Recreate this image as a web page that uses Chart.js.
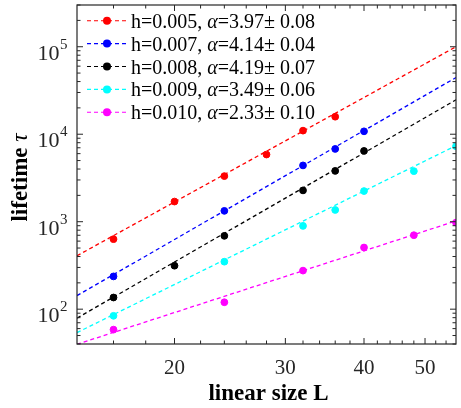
<!DOCTYPE html>
<html>
<head>
<meta charset="utf-8">
<script src="https://cdn.jsdelivr.net/npm/chart.js@4.4.0/dist/chart.umd.min.js"></script>
<style>
  body { margin: 0; background: #fff; }
</style>
</head>
<body>
<canvas id="lifetimeChart" width="461" height="408"></canvas>
<script>
// measured lifetimes per field strength h
const sizesH005 = [16, 20, 24, 28, 32, 36];
const tauH005 = [632, 1700, 3320, 5860, 10990, 15850];
const sizesH007 = [16, 24, 32, 36, 40];
const tauH007 = [237, 1330, 4400, 6790, 10790];
const sizesH008 = [16, 20, 24, 32, 36, 40];
const tauH008 = [136, 314, 689, 2280, 3810, 6440];
const sizesH009 = [16, 24, 32, 36, 40, 48, 56];
const tauH009 = [84, 349, 896, 1362, 2240, 3785, 7280];
const sizesH010 = [16, 24, 32, 40, 48, 56];
const tauH010 = [58.4, 120, 276, 507, 701, 977];

// power-law fits, value at each end of the L range
const fitRange = [14, 56];
const fitH005 = [408, 100000];
const fitH007 = [143, 44400];
const fitH008 = [79, 24700];
const fitH009 = [54, 7400];
const fitH010 = [39.7, 1020];

const hLabels = ['h=0.005', 'h=0.007', 'h=0.008', 'h=0.009', 'h=0.010'];
const alphas = ['3.97', '4.14', '4.19', '3.49', '2.33'];
const alphaErrs = ['0.08', '0.04', '0.07', '0.06', '0.10'];

const xTicks = [20, 30, 40, 50];
const yTicks = [100, 1000, 10000, 100000];

const colors = ['#ff0000', '#0000ff', '#000000', '#00ffff', '#ff00ff'];
const sizes = [sizesH005, sizesH007, sizesH008, sizesH009, sizesH010];
const taus = [tauH005, tauH007, tauH008, tauH009, tauH010];
const fits = [fitH005, fitH007, fitH008, fitH009, fitH010];

const SERIF = '"Liberation Serif", "Times New Roman", serif';
const AXIS = '#262626';

const datasets = [];
sizes.forEach((xs, k) => {
  datasets.push({
    label: hLabels[k] + ' fit',
    data: fitRange.map((x, i) => ({ x: x, y: fits[k][i] })),
    showLine: true,
    borderColor: colors[k],
    borderWidth: 1.3,
    borderDash: [4, 3],
    pointRadius: 0,
    order: 2
  });
  datasets.push({
    label: hLabels[k],
    data: xs.map((x, i) => ({ x: x, y: taus[k][i] })),
    showLine: false,
    backgroundColor: colors[k],
    borderColor: colors[k],
    borderWidth: 1,
    pointRadius: 3.4,
    order: 1
  });
});

function logMinor(min, max, steps) {
  const out = [];
  for (let d = Math.pow(10, Math.floor(Math.log10(min))); d <= max; d *= 10) {
    steps.forEach(s => {
      const v = s * d;
      if (v >= min && v <= max) out.push(v);
    });
  }
  return out;
}

const decorations = {
  id: 'decorations',
  afterDraw(chart) {
    const ctx = chart.ctx;
    const a = chart.chartArea;
    const xs = chart.scales.x;
    const ys = chart.scales.y;
    ctx.save();

    // box
    ctx.strokeStyle = AXIS;
    ctx.lineWidth = 1.2;
    ctx.strokeRect(a.left, a.top, a.right - a.left, a.bottom - a.top);

    // inward ticks on all four sides
    ctx.lineWidth = 1;
    ctx.beginPath();
    const xMinor = [];
    for (let v = 16; v < 56; v += 2) xMinor.push(v);
    xMinor.forEach(v => {
      const len = xTicks.includes(v) ? 6 : 3.5;
      const px = xs.getPixelForValue(v);
      ctx.moveTo(px, a.bottom); ctx.lineTo(px, a.bottom - len);
      ctx.moveTo(px, a.top); ctx.lineTo(px, a.top + len);
    });
    logMinor(40, 300000, [1, 2, 3, 4, 5, 6, 7, 8, 9]).forEach(v => {
      const len = yTicks.includes(v) ? 6 : 3.5;
      const py = ys.getPixelForValue(v);
      ctx.moveTo(a.left, py); ctx.lineTo(a.left + len, py);
      ctx.moveTo(a.right, py); ctx.lineTo(a.right - len, py);
    });
    ctx.stroke();

    // y tick labels as powers of ten
    ctx.fillStyle = AXIS;
    yTicks.forEach(v => {
      const py = ys.getPixelForValue(v);
      ctx.font = '22px ' + SERIF;
      ctx.textAlign = 'right';
      ctx.textBaseline = 'alphabetic';
      ctx.fillText('10', 59.5, py + 13);
      ctx.font = '15px ' + SERIF;
      ctx.textAlign = 'left';
      ctx.fillText(String(Math.round(Math.log10(v))), 60, py + 2);
    });

    // axis titles
    ctx.fillStyle = '#000';
    ctx.font = 'bold 23px ' + SERIF;
    ctx.textAlign = 'center';
    ctx.fillText('linear size L', (a.left + a.right) / 2 + 2, 400);

    ctx.save();
    ctx.translate(27, (a.top + a.bottom) / 2 + 3);
    ctx.rotate(-Math.PI / 2);
    ctx.textAlign = 'left';
    const boldPart = 'lifetime ';
    ctx.font = 'bold 23px ' + SERIF;
    const w1 = ctx.measureText(boldPart).width;
    ctx.font = 'italic 23px ' + SERIF;
    const w2 = ctx.measureText('τ').width;
    let x0 = -(w1 + w2) / 2;
    ctx.font = 'bold 23px ' + SERIF;
    ctx.fillText(boldPart, x0, 0);
    ctx.font = 'italic 23px ' + SERIF;
    ctx.fillText('τ', x0 + w1, 0);
    ctx.restore();

    // legend: dashed sample, marker, text
    hLabels.forEach((lab, k) => {
      const cy = 20.7 + k * 22.9;
      ctx.strokeStyle = colors[k];
      ctx.lineWidth = 1.1;
      ctx.setLineDash([4, 3]);
      ctx.beginPath();
      ctx.moveTo(87, cy); ctx.lineTo(127, cy);
      ctx.stroke();
      ctx.setLineDash([]);
      ctx.fillStyle = colors[k];
      ctx.beginPath();
      ctx.arc(107, cy, 4, 0, Math.PI * 2);
      ctx.fill();

      ctx.fillStyle = '#000';
      ctx.textAlign = 'left';
      ctx.textBaseline = 'alphabetic';
      let tx = 131;
      const base = cy + 7;
      ctx.font = '20px ' + SERIF;
      const p1 = lab + ', ';
      ctx.fillText(p1, tx, base); tx += ctx.measureText(p1).width;
      ctx.font = 'italic 20px ' + SERIF;
      ctx.fillText('α', tx, base); tx += ctx.measureText('α').width;
      ctx.font = '20px ' + SERIF;
      const p2 = '=' + alphas[k] + '± ' + alphaErrs[k];
      ctx.fillText(p2, tx, base);
    });

    ctx.restore();
  }
};

new Chart(document.getElementById('lifetimeChart'), {
  type: 'scatter',
  data: { datasets: datasets },
  options: {
    responsive: false,
    animation: false,
    devicePixelRatio: 1,
    layout: { padding: { top: 3, right: 1, left: 0, bottom: 0 } },
    plugins: {
      legend: { display: false },
      tooltip: { enabled: false }
    },
    scales: {
      x: {
        type: 'logarithmic',
        min: 14,
        max: 56,
        grid: { display: false, drawTicks: false },
        border: { display: false },
        afterBuildTicks: scale => { scale.ticks = xTicks.map(v => ({ value: v })); },
        afterFit: scale => { scale.height = 64; },
        ticks: {
          autoSkip: false,
          maxRotation: 0,
          padding: 12,
          color: AXIS,
          font: { family: SERIF, size: 21 },
          callback: v => String(v)
        }
      },
      y: {
        type: 'logarithmic',
        min: 40,
        max: 300000,
        grid: { display: false, drawTicks: false },
        border: { display: false },
        afterBuildTicks: scale => { scale.ticks = yTicks.map(v => ({ value: v })); },
        afterFit: scale => { scale.width = 77; },
        ticks: { display: false }
      }
    }
  },
  plugins: [decorations]
});
</script>
</body>
</html>
